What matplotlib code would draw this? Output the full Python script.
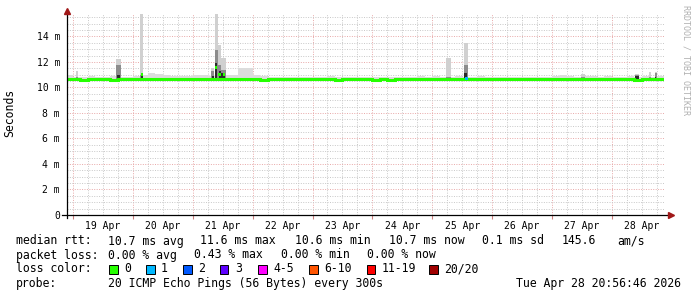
import numpy as np
import matplotlib
matplotlib.use("Agg")
import matplotlib.pyplot as plt
from matplotlib.patches import Rectangle
from matplotlib.ticker import MultipleLocator, FuncFormatter, NullFormatter

# median rtt (ms) in 3 hour bins, first bin starts 18 Apr 21:00 (x = day of April)
median_start = 18.875
median_step = 3 / 24.0
median_ms = [
    10.68, 10.66, 10.62, 10.64, 10.66, 10.63, 10.62, 10.65,
    10.64, 10.63, 10.65, 10.64, 10.66, 10.67, 10.66, 10.68,
    10.67, 10.68, 10.69, 10.66, 10.68, 10.67, 10.66, 10.67,
    10.66, 10.64, 10.62, 10.63, 10.65, 10.64, 10.66, 10.65,
    10.63, 10.64, 10.66, 10.65, 10.62, 10.63, 10.64, 10.65,
    10.64, 10.62, 10.63, 10.61, 10.63, 10.65, 10.66, 10.64,
    10.65, 10.66, 10.64, 10.65, 10.66, 10.65, 10.67, 10.66,
    10.66, 10.65, 10.66, 10.67, 10.66, 10.65, 10.66, 10.67,
    10.66, 10.64, 10.63, 10.65, 10.67, 10.68, 10.69, 10.68,
    10.67, 10.66, 10.66, 10.64, 10.62, 10.63, 10.63, 10.64,
]
# upper edge of the smoke in the same bins
smoke_hi = [
    10.95, 10.85, 10.85, 10.90, 10.85, 10.85, 10.90, 10.85,
    10.85, 10.90, 10.95, 11.10, 11.05, 10.95, 10.90, 10.90,
    10.90, 10.95, 10.95, 10.90, 10.95, 11.00, 11.00, 11.50,
    11.50, 10.95, 10.90, 10.85, 10.85, 10.80, 10.80, 10.85,
    10.85, 10.80, 10.85, 10.90, 10.85, 10.80, 10.80, 10.85,
    10.85, 10.80, 10.80, 10.85, 10.80, 10.85, 10.85, 10.90,
    10.85, 10.90, 10.85, 10.85, 10.90, 10.85, 10.85, 10.90,
    10.85, 10.80, 10.85, 10.85, 10.80, 10.85, 10.80, 10.85,
    10.85, 10.90, 10.95, 10.90, 10.85, 10.90, 10.90, 10.85,
    10.90, 10.85, 10.85, 10.90, 10.85, 10.90, 10.85, 10.90,
]
smoke_floor = 10.52

# short smoke spikes: centre (day), width (hours), outer / middle / inner tops (ms)
spike_day = [19.07, 19.76, 20.15, 21.33, 21.39, 21.45, 21.51, 25.27, 25.56, 27.52, 28.42, 28.64, 28.73]
spike_hours = [1.0, 1.8, 1.2, 1.0, 1.2, 1.0, 1.8, 1.8, 1.6, 1.8, 1.8, 1.0, 0.8]
spike_outer = [11.30, 12.20, 15.80, 11.50, 15.80, 13.30, 12.30, 12.30, 13.50, 11.05, 11.05, 11.20, 11.20]
spike_mid = [10.80, 11.80, 11.00, 11.30, 12.90, 11.80, 11.40, 10.80, 11.80, 10.80, 11.00, 10.85, 11.10]
spike_inner = [10.70, 11.00, 11.00, 10.90, 11.90, 11.30, 11.10, 10.70, 11.10, 10.70, 10.90, 10.70, 10.80]

# median points that stick out of the 3 hour bins, with their loss colour
event_day = [20.15, 21.39, 21.45, 21.52, 25.57]
event_ms = [11.02, 11.60, 11.00, 11.05, 10.68]
event_color = ["#26ff00", "#26ff00", "#26ff00", "#26ff00", "#00b8ff"]

day_first = 18.9
day_last = 28.87
y_top = 15.76

loss_labels = ["0", "1", "2", "3", "4-5", "6-10", "11-19", "20/20"]
loss_colors = ["#26ff00", "#00b8ff", "#0059ff", "#5e00ff", "#ff00ff", "#ff5500", "#ff0000", "#a00000"]

W, H = 697, 297
mono = "DejaVu Sans Mono"

fig = plt.figure(figsize=(W / 100, H / 100), dpi=100)
fig.patch.set_facecolor("white")
ax = fig.add_axes([67 / W, (H - 215) / H, 597 / W, 201 / H])

edges = median_start + median_step * np.arange(len(median_ms) + 1)

# smoke
ax.stairs(smoke_hi, edges, baseline=smoke_floor, fill=True, color="#dcdcdc", lw=0)
spike_w = np.array(spike_hours) / 24.0
ax.bar(spike_day, np.array(spike_outer) - smoke_floor, bottom=smoke_floor, width=spike_w,
       color="#d0d0d0", lw=0)
ax.bar(spike_day, np.array(spike_mid) - smoke_floor, bottom=smoke_floor, width=spike_w,
       color="#8c8c8c", lw=0)
ax.bar(spike_day, np.array(spike_inner) - smoke_floor, bottom=smoke_floor, width=spike_w * 0.8,
       color="#2a2a2a", lw=0)

# median line
ax.stairs(median_ms, edges, baseline=None, color="#26ff00", lw=2.2)
ax.bar(event_day, 0.24, bottom=np.array(event_ms) - 0.12, width=0.045, color=event_color, lw=0)

ax.set_xlim(day_first, day_last)
ax.set_ylim(0, y_top)

# grid
ax.set_axisbelow(True)
ax.xaxis.set_major_locator(MultipleLocator(1))
ax.xaxis.set_minor_locator(MultipleLocator(0.25))
ax.yaxis.set_major_locator(MultipleLocator(2))
ax.yaxis.set_minor_locator(MultipleLocator(0.5))
ax.grid(which="minor", color="#c8c8c8", linestyle=(0, (1, 1.5)), lw=0.7)
ax.grid(which="major", color="#e8a8a8", linestyle=(0, (1, 1.5)), lw=0.7)

ax.xaxis.set_major_formatter(NullFormatter())
ax.xaxis.set_minor_formatter(FuncFormatter(
    lambda v, p: "%d Apr" % int(v) if abs(v % 1 - 0.5) < 1e-6 else ""))
ax.yaxis.set_major_formatter(FuncFormatter(lambda v, p: "0" if v == 0 else "%d m" % v))
ax.tick_params(axis="x", which="minor", length=0, pad=4, labelsize=7)
ax.tick_params(axis="x", which="major", length=3, color="#d08080")
ax.tick_params(axis="y", which="both", length=0, pad=5, labelsize=7)
for lab in ax.get_xticklabels(minor=True) + ax.get_yticklabels():
    lab.set_family(mono)

for s in ax.spines.values():
    s.set_visible(False)

# axes with arrows
px = 1 / 597.0
py = 1 / 201.0
ax.plot([-5 * px, 1 + 6 * px], [0, 0], color="black", lw=0.9, transform=ax.transAxes, clip_on=False)
ax.plot([0, 0], [-3 * py, 1 + 3 * py], color="black", lw=0.9, transform=ax.transAxes, clip_on=False)
ax.plot([1 + 7 * px], [0], marker=">", ms=4, color="#a01818", transform=ax.transAxes, clip_on=False)
ax.plot([0], [1 + 3 * py], marker="^", ms=4, color="#a01818", transform=ax.transAxes, clip_on=False)

fig.text(10 / W, 1 - 113 / H, "Seconds", rotation=90, ha="center", va="center",
         family=mono, size=8.3)
fig.text(686 / W, 1 - 5 / H, "RRDTOOL / TOBI OETIKER", rotation=270, ha="center", va="top",
         family=mono, size=6, color="#b0b0b0")


def put(x, y, s):
    fig.text(x / W, 1 - y / H, s, ha="left", va="center", family=mono, size=8.3)


put(16, 241, "median rtt:")
put(108, 241, "10.7 ms avg")
put(200, 241, "11.6 ms max")
put(295, 241, "10.6 ms min")
put(389, 241, "10.7 ms now")
put(482, 241, "0.1 ms sd")
put(562, 241, "145.6")
put(617, 241, "am/s")

put(16, 255, "packet loss:")
put(108, 255, "0.00 % avg")
put(194, 255, "0.43 % max")
put(281, 255, "0.00 % min")
put(367, 255, "0.00 % now")

put(16, 269, "loss color:")
sw_x = [109, 146, 183, 220, 258, 309, 367, 429]
for x, lab, col in zip(sw_x, loss_labels, loss_colors):
    fig.patches.append(Rectangle((x / W, 1 - 273.5 / H), 8.5 / W, 8.5 / H, transform=fig.transFigure,
                                 facecolor=col, edgecolor="black", lw=0.7))
    put(x + 15, 269, lab)

put(16, 283, "probe:")
put(108, 283, "20 ICMP Echo Pings (56 Bytes) every 300s")
put(516, 283, "Tue Apr 28 20:56:46 2026")

fig.savefig("out.png", dpi=100, facecolor="white")
